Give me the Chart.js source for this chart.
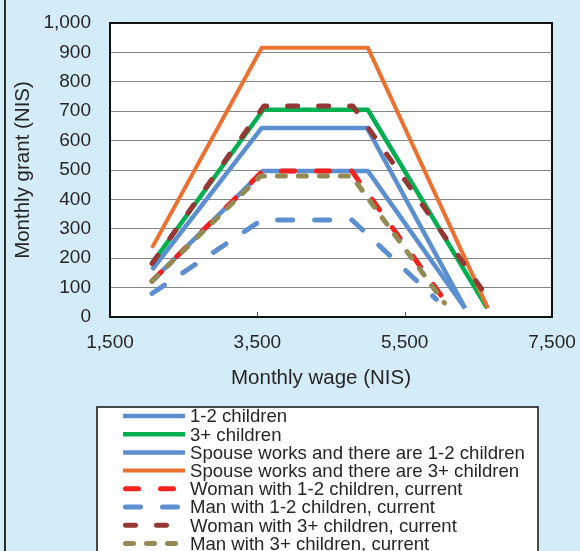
<!DOCTYPE html>
<html>
<head>
<meta charset="utf-8">
<script src="https://cdn.jsdelivr.net/npm/chart.js@4.4.1/dist/chart.umd.min.js"></script>
<style>
html,body{margin:0;padding:0;background:#d4ecf8;}
canvas{display:block;}
</style>
</head>
<body>
<canvas id="grant" width="580" height="551"></canvas>
<script>
// Work-grant schedules: wage knots (NIS/month) and the monthly grant (NIS) at each knot
const kids12Wage      = [2070, 3575, 5000, 6320];
const kids12Grant     = [122, 497, 497, 30];
const kids3Wage       = [2070, 3580, 5000, 6620];
const kids3Grant      = [182, 705, 705, 30];
const spouse12Wage    = [2070, 3560, 4990, 6320];
const spouse12Grant   = [160, 643, 643, 30];
const spouse3Wage     = [2070, 3560, 5000, 6630];
const spouse3Grant    = [235, 916, 916, 30];
const woman12NowWage  = [2070, 3575, 4780, 6090];
const woman12NowGrant = [122, 497, 497, 40];
const man12NowWage    = [2070, 3560, 4785, 5930];
const man12NowGrant   = [80, 330, 330, 60];
const woman3NowWage   = [2070, 3590, 4795, 6700];
const woman3NowGrant  = [182, 718, 718, 40];
const man3NowWage     = [2070, 3545, 4780, 6040];
const man3NowGrant    = [122, 480, 480, 48];

const seriesNames = [
  '1-2 children',
  '3+ children',
  'Spouse works and there are 1-2 children',
  'Spouse works and there are 3+ children',
  'Woman with 1-2 children, current',
  'Man with 1-2 children, current',
  'Woman with 3+ children, current',
  'Man with 3+ children, current'
];
const wageTicks  = [1500, 3500, 5500, 7500];
const grantTicks = [0, 100, 200, 300, 400, 500, 600, 700, 800, 900, 1000];
const wageTitle  = 'Monthly wage (NIS)';
const grantTitle = 'Monthly grant (NIS)';

const FONT = "'Liberation Sans', Arial, sans-serif";
const TEXT = '#262626';
const BLUE = '#5b8fd0';

function pts(xs, ys) { return xs.map((x, i) => ({ x: x, y: ys[i] })); }

// visible dash d and gap g for a round-capped line of width w
function dash(d, g, w) { return [Math.max(d - w, 0.1), g + w]; }

const styles = [
  { color: BLUE,      width: 4.5, dash: [] },
  { color: '#00b050', width: 4.5, dash: [] },
  { color: BLUE,      width: 4.5, dash: [] },
  { color: '#ec7030', width: 4,   dash: [] },
  { color: '#f0211f', width: 5,   dash: dash(18, 17, 5) },
  { color: BLUE,      width: 5,   dash: dash(20, 17, 5) },
  { color: '#953735', width: 5,   dash: dash(15, 16, 5) },
  { color: '#948a54', width: 5,   dash: dash(13, 8, 5) }
];

const seriesPoints = [
  pts(kids12Wage, kids12Grant),
  pts(kids3Wage, kids3Grant),
  pts(spouse12Wage, spouse12Grant),
  pts(spouse3Wage, spouse3Grant),
  pts(woman12NowWage, woman12NowGrant),
  pts(man12NowWage, man12NowGrant),
  pts(woman3NowWage, woman3NowGrant),
  pts(man3NowWage, man3NowGrant)
];

const datasets = seriesNames.map((name, i) => ({
  label: name,
  data: seriesPoints[i],
  borderColor: styles[i].color,
  borderWidth: styles[i].width,
  borderDash: styles[i].dash,
  borderCapStyle: styles[i].dash.length ? 'round' : 'butt',
  borderJoinStyle: 'round',
  pointRadius: 0,
  fill: false,
  tension: 0,
  order: -i
}));

// page background, plot-area fill, frame, tick marks, wage title and the legend box
const decor = {
  id: 'decor',
  beforeDraw(chart) {
    const { ctx, chartArea: a } = chart;
    ctx.save();
    ctx.fillStyle = '#d4ecf8';
    ctx.fillRect(0, 0, chart.width, chart.height);
    ctx.strokeStyle = '#2a2a2a';
    ctx.lineWidth = 2;
    ctx.beginPath();
    ctx.moveTo(5, 0);
    ctx.lineTo(5, chart.height);
    ctx.stroke();
    ctx.fillStyle = '#ffffff';
    ctx.fillRect(a.left, a.top, a.right - a.left, a.bottom - a.top);
    ctx.restore();
  },
  afterDraw(chart) {
    const { ctx, chartArea: a } = chart;
    const xs = chart.scales.x;
    ctx.save();
    // tick marks on the wage axis, pointing into the plot
    ctx.strokeStyle = '#555';
    ctx.lineWidth = 1;
    wageTicks.forEach(v => {
      const px = Math.round(xs.getPixelForValue(v)) + 0.5;
      ctx.beginPath();
      ctx.moveTo(px, a.bottom);
      ctx.lineTo(px, a.bottom - 5);
      ctx.stroke();
    });
    // plot frame
    ctx.strokeStyle = '#111';
    ctx.lineWidth = 2;
    ctx.strokeRect(a.left, a.top, a.right - a.left, a.bottom - a.top);

    // wage axis title
    ctx.fillStyle = TEXT;
    ctx.font = '20.5px ' + FONT;
    ctx.textAlign = 'center';
    ctx.textBaseline = 'alphabetic';
    ctx.fillText(wageTitle, 321, 384);

    // legend
    const box = { left: 97, top: 407, right: 538, bottom: 560 };
    ctx.fillStyle = '#ffffff';
    ctx.fillRect(box.left, box.top, box.right - box.left, box.bottom - box.top);
    ctx.strokeStyle = '#111';
    ctx.lineWidth = 1.5;
    ctx.strokeRect(box.left, box.top, box.right - box.left, box.bottom - box.top);
    ctx.font = '18.6px ' + FONT;
    ctx.textAlign = 'left';
    chart.data.datasets.forEach((ds, i) => {
      const y = 416 + i * 18.2;
      ctx.save();
      ctx.strokeStyle = ds.borderColor;
      ctx.lineWidth = ds.borderWidth;
      ctx.lineCap = ds.borderCapStyle;
      ctx.setLineDash(ds.borderDash || []);
      const x0 = ds.borderDash && ds.borderDash.length ? 125.5 : 123;
      ctx.beginPath();
      ctx.moveTo(x0, y);
      ctx.lineTo(185, y);
      ctx.stroke();
      ctx.restore();
      ctx.fillStyle = TEXT;
      ctx.fillText(ds.label, 190, y + 6.3);
    });
    ctx.restore();
  }
};

const fmt = v => Number(v).toLocaleString('en-US');

new Chart(document.getElementById('grant'), {
  type: 'line',
  data: { datasets: datasets },
  plugins: [decor],
  options: {
    responsive: false,
    animation: false,
    devicePixelRatio: 1,
    layout: { padding: { left: 0, top: 23, right: 28, bottom: 154 } },
    plugins: { legend: { display: false }, tooltip: { enabled: false } },
    scales: {
      x: {
        type: 'linear',
        min: wageTicks[0],
        max: wageTicks[wageTicks.length - 1],
        afterBuildTicks: s => { s.ticks = wageTicks.map(v => ({ value: v })); },
        afterFit: s => { s.height = 80; s.paddingLeft = 0; s.paddingRight = 0; },
        grid: { display: false, drawTicks: false },
        border: { display: false },
        ticks: { padding: 14, color: TEXT, font: { family: FONT, size: 19 }, callback: fmt, maxRotation: 0 },
        title: { display: false }
      },
      y: {
        type: 'linear',
        min: grantTicks[0],
        max: grantTicks[grantTicks.length - 1],
        afterBuildTicks: s => { s.ticks = grantTicks.map(v => ({ value: v })); },
        afterFit: s => { s.width = 110; s.paddingTop = 0; s.paddingBottom = 0; },
        grid: { color: '#858585', lineWidth: 1, drawTicks: false },
        border: { display: false },
        ticks: { padding: 19, color: TEXT, font: { family: FONT, size: 19 }, callback: fmt },
        title: { display: true, text: grantTitle, color: TEXT, font: { family: FONT, size: 20.5 }, padding: { top: 11, bottom: 0 } }
      }
    }
  }
});
</script>
</body>
</html>
